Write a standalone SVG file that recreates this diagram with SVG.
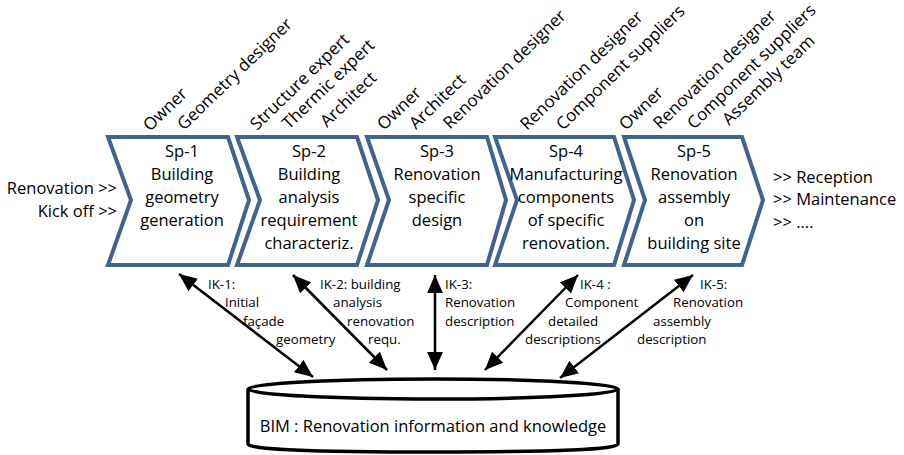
<svg xmlns="http://www.w3.org/2000/svg" width="904" height="455" viewBox="0 0 904 455">
<style>
text{font-family:"Open Sans","Noto Sans","Liberation Sans",sans-serif;fill:#000}
.t{font-size:16.5px}
.r{font-size:17px}
.c{text-anchor:middle}
.s{font-size:13.3px}
.chev{fill:#fff;stroke:#41638F;stroke-width:4;stroke-linejoin:miter}
.ar{stroke:#000;stroke-width:2.5;fill:none;marker-start:url(#ah);marker-end:url(#ah)}
</style>
<defs>
<marker id="ah" markerUnits="userSpaceOnUse" markerWidth="18" markerHeight="16" refX="16" refY="7" orient="auto-start-reverse" viewBox="0 0 16 14">
<path d="M0,0 L16,7 L0,14 Z" fill="#000"/>
</marker>
</defs>
<rect width="904" height="455" fill="#fff"/>

<g id="start">
<text class="t" x="117" y="194" text-anchor="end">Renovation &gt;&gt;</text>
<text class="t" x="117" y="217" text-anchor="end">Kick off &gt;&gt;</text>
</g>

<g id="sp1">
<path class="chev" d="M108,137 H228 L249,200 L228,265 H108 L131,200 Z"/>
<text class="t c" x="182"><tspan x="182" y="157">Sp-1</tspan><tspan x="182" y="180">Building</tspan><tspan x="182" y="203">geometry</tspan><tspan x="182" y="226">generation</tspan></text>
<text class="r" transform="translate(150,132) rotate(-44)">Owner</text>
<text class="r" transform="translate(184,131) rotate(-44)">Geometry designer</text>
</g>

<g id="sp2">
<path class="chev" d="M237,137 H357 L378,200 L357,265 H237 L260,200 Z"/>
<text class="t c" x="309"><tspan x="309" y="157">Sp-2</tspan><tspan x="309" y="180">Building</tspan><tspan x="309" y="203">analysis</tspan><tspan x="309" y="226">requirement</tspan><tspan x="309" y="249">characteriz.</tspan></text>
<text class="r" transform="translate(257,131) rotate(-44)">Structure expert</text>
<text class="r" transform="translate(289,130) rotate(-44)">Thermic expert</text>
<text class="r" transform="translate(327,128) rotate(-44)">Architect</text>
</g>

<g id="sp3">
<path class="chev" d="M367,137 H487 L506,200 L487,265 H367 L389,200 Z"/>
<text class="t c" x="437"><tspan x="437" y="157">Sp-3</tspan><tspan x="437" y="180">Renovation</tspan><tspan x="437" y="203">specific</tspan><tspan x="437" y="226">design</tspan></text>
<text class="r" transform="translate(384,131) rotate(-44)">Owner</text>
<text class="r" transform="translate(416,130) rotate(-44)">Architect</text>
<text class="r" transform="translate(450,130) rotate(-44)">Renovation designer</text>
</g>

<g id="sp4">
<path class="chev" d="M495,137 H614 L634,200 L614,265 H495 L517,200 Z"/>
<text class="t c" x="566"><tspan x="566" y="157">Sp-4</tspan><tspan x="566" y="180">Manufacturing</tspan><tspan x="566" y="203">components</tspan><tspan x="566" y="226">of specific</tspan><tspan x="566" y="249">renovation.</tspan></text>
<text class="r" transform="translate(527,131) rotate(-44)">Renovation designer</text>
<text class="r" transform="translate(563,131) rotate(-44)">Component suppliers</text>
</g>

<g id="sp5">
<path class="chev" d="M624,137 H742 L763,200 L742,265 H624 L645,200 Z"/>
<text class="t c" x="694"><tspan x="694" y="157">Sp-5</tspan><tspan x="694" y="180">Renovation</tspan><tspan x="694" y="203">assembly</tspan><tspan x="694" y="226">on</tspan><tspan x="694" y="249">building site</tspan></text>
<text class="r" transform="translate(626,131) rotate(-44)">Owner</text>
<text class="r" transform="translate(660,130) rotate(-44)">Renovation designer</text>
<text class="r" transform="translate(694,130) rotate(-44)">Component suppliers</text>
<text class="r" transform="translate(729,126) rotate(-44)">Assembly team</text>
</g>

<g id="end">
<text class="t" x="773" y="183">&gt;&gt; Reception</text>
<text class="t" x="773" y="205">&gt;&gt; Maintenance</text>
<text class="t" x="773" y="228">&gt;&gt; ....</text>
</g>

<g id="bim">
<path d="M248,389 V444 Q248,452 433,452 Q618,452 618,444 V389" fill="#fff" stroke="#000" stroke-width="3.5"/>
<ellipse cx="433" cy="389" rx="185" ry="10" fill="#fff" stroke="#000" stroke-width="3.5"/>
<text class="t c" x="433" y="432">BIM : Renovation information and knowledge</text>
</g>

<g id="connectors">
<line class="ar" x1="179" y1="274" x2="313" y2="377"/>
<line class="ar" x1="293" y1="275" x2="387" y2="370"/>
<line class="ar" x1="435" y1="275" x2="435" y2="370"/>
<line class="ar" x1="578" y1="275" x2="485" y2="370"/>
<line class="ar" x1="693" y1="275" x2="560" y2="378"/>
</g>

<g id="labels">
<text class="s" x="208" y="289">IK-1:</text>
<text class="s" x="225" y="307">Initial</text>
<text class="s" x="243" y="326">façade</text>
<text class="s" x="276" y="344">geometry</text>
<text class="s" x="320" y="289">IK-2: building</text>
<text class="s" x="333" y="307">analysis</text>
<text class="s" x="347" y="326">renovation</text>
<text class="s" x="368" y="344">requ.</text>
<text class="s" x="445" y="289">IK-3:</text>
<text class="s" x="445" y="307">Renovation</text>
<text class="s" x="445" y="326">description</text>
<text class="s" x="580" y="289">IK-4 :</text>
<text class="s" x="565" y="307">Component</text>
<text class="s" x="548" y="326">detailed</text>
<text class="s" x="525" y="344">descriptions</text>
<text class="s" x="700" y="289">IK-5:</text>
<text class="s" x="673" y="307">Renovation</text>
<text class="s" x="653" y="326">assembly</text>
<text class="s" x="637" y="344">description</text>
</g>
</svg>
